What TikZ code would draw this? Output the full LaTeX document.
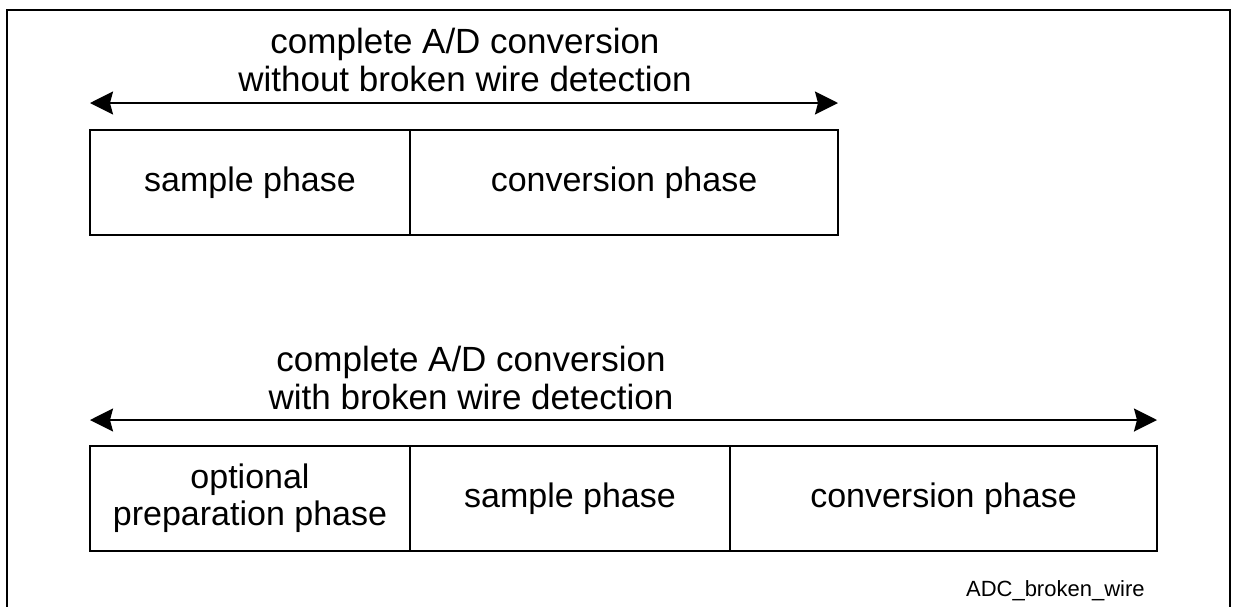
\documentclass[tikz,border=0pt]{standalone}
\usepackage{fontspec}
\setmainfont{Liberation Sans}
\usetikzlibrary{arrows.meta,positioning,calc}
\tikzset{
  phase/.style={draw, line width=1.3pt, outer sep=0pt, inner sep=0pt,
                minimum height=52.5pt, align=center,
                font=\fontsize{17}{18.5}\selectfont},
  spanarr/.style={{Stealth[length=11.5pt,width=11.5pt,inset=1.5pt]}-{Stealth[length=11.5pt,width=11.5pt,inset=1.5pt]},
                  line width=1pt},
  spanlbl/.style={align=center, inner sep=0pt, font=\fontsize{17.5}{19}\selectfont},
  frm/.style={line width=1.3pt},
  tag/.style={anchor=base east, inner sep=0pt, font=\fontsize{11}{13}\selectfont},
}

\begin{document}
\begin{tikzpicture}[x=0.5pt, y=-0.5pt]
  \useasboundingbox (0,0) rectangle (1241,606);
  \draw[frm] (7,620) -- (7,10) -- (1230,10) -- (1230,620);
  % conversion without broken wire detection
  \node[phase, minimum width=160pt, anchor=north west] (smpA) at (90,130) {sample phase};
  \node[phase, minimum width=214pt, right=0pt of smpA] (convA) {conversion phase};
  \coordinate (arrAl) at ($(smpA.north west)+(0,-27)$);
  \coordinate (arrAr) at ($(convA.north east)+(0,-27)$);
  \draw[spanarr] (arrAl) -- (arrAr);
  \node[spanlbl] (lblA) at (465,60) {complete A/D conversion\\without broken wire detection};
  % conversion with broken wire detection
  \node[phase, minimum width=160pt, anchor=north west] (prepB) at (90,446) {optional\\preparation phase};
  \node[phase, minimum width=160pt, right=0pt of prepB] (smpB) {sample phase};
  \node[phase, minimum width=213.5pt, right=0pt of smpB] (convB) {conversion phase};
  \coordinate (arrBl) at ($(prepB.north west)+(0,-26)$);
  \coordinate (arrBr) at ($(convB.north east)+(0,-26)$);
  \draw[spanarr] (arrBl) -- (arrBr);
  \node[spanlbl] (lblB) at (471,378) {complete A/D conversion\\with broken wire detection};
  \node[tag] (figid) at (1145,596) {ADC\_broken\_wire};
\end{tikzpicture}
\end{document}
